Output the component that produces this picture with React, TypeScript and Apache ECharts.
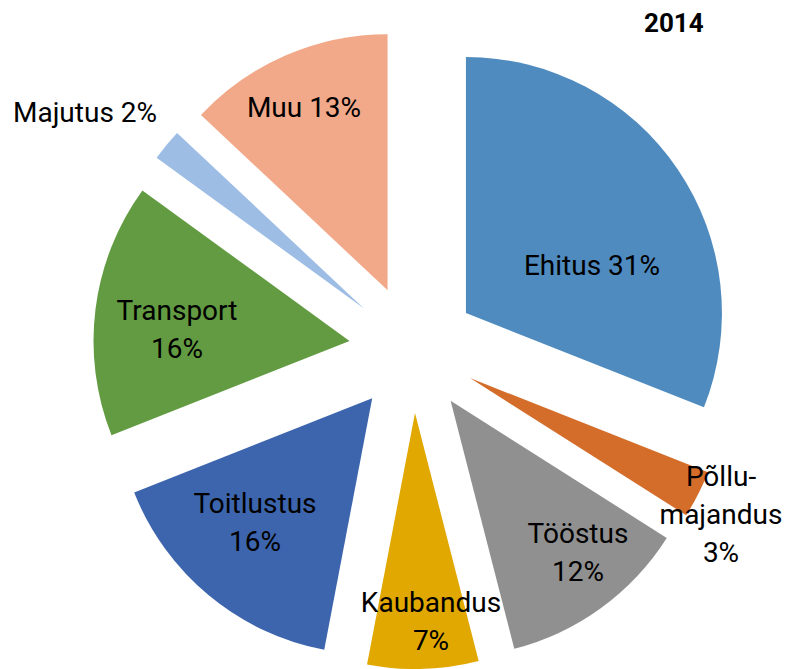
import React, { useEffect, useRef } from "react";
import * as echarts from "echarts";

const categories = ["Ehitus", "Põllumajandus", "Tööstus", "Kaubandus", "Toitlustus", "Transport", "Majutus", "Muu"];
const values = [31, 3, 12, 7, 16, 16, 2, 13];
const colors = ["#4F8BBF", "#D56D2A", "#909090", "#E0A800", "#3D65AD", "#629B41", "#9DBDE5", "#F1A98A"];
// how each category name is broken into lines in its label
const labelNames = ["Ehitus", "Põllu-\nmajandus", "Tööstus", "Kaubandus", "Toitlustus", "Transport", "Majutus", "Muu"];
const labelBreak = [false, true, true, true, true, true, false, false];
// label anchor positions (layout only)
const labelPos: [number, number][] = [
  [592, 265],
  [721, 514],
  [578, 552],
  [431, 621],
  [255, 522],
  [177, 329],
  [85, 112],
  [304, 107],
];
const title = "2014";

export default function App() {
  const ref = useRef<HTMLDivElement>(null);
  useEffect(() => {
    const chart = echarts.init(ref.current!, null, { renderer: "svg" });
    chart.setOption({
      animation: false,
      title: {
        text: title,
        left: 639,
        top: 5,
        textStyle: { fontFamily: "Roboto", fontWeight: "bold", fontSize: 26, color: "#000" },
      },
      graphic: categories.map((c, i) => ({
        type: "text",
        x: labelPos[i][0],
        y: labelPos[i][1],
        z: 10,
        silent: true,
        style: {
          text: labelNames[i] + (labelBreak[i] ? "\n" : " ") + values[i] + "%",
          fontFamily: "Roboto",
          fontSize: 28,
          lineHeight: 38,
          fill: "#000",
          align: "center",
          verticalAlign: "middle",
        },
      })),
      series: [
        {
          type: "pie",
          center: [413, 349],
          radius: [0, 256],
          startAngle: 90,
          clockwise: true,
          selectedMode: "multiple",
          selectedOffset: 64,
          label: { show: false },
          labelLine: { show: false },
          emphasis: { disabled: true },
          data: categories.map((c, i) => ({
            name: c,
            value: values[i],
            selected: true,
            itemStyle: { color: colors[i] },
          })),
        },
      ],
    });
    return () => chart.dispose();
  }, []);
  return <div ref={ref} style={{ position: "absolute", left: 0, top: 0, width: 785, height: 669 }} />;
}
